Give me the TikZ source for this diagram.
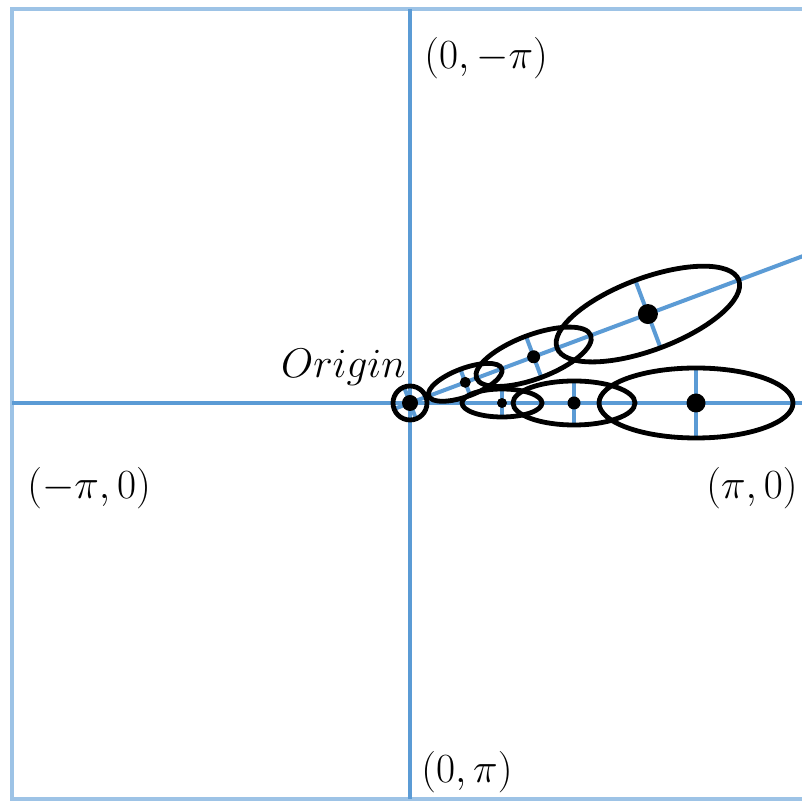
\documentclass[tikz,border=0pt]{standalone}
\usetikzlibrary{calc}
\definecolor{axisblue}{HTML}{5B9BD5}
\definecolor{frameblue}{HTML}{9DC3E6}
\tikzset{
  axisline/.style={draw=axisblue,line width=2pt},
  frameline/.style={draw=frameblue,line width=2pt},
  ell/.style={draw=black,line width=2.4pt},
  tick/.style={draw=axisblue,line width=2pt},
  lbl/.style={inner sep=0pt,font=\fontsize{22}{26}\selectfont},
}
\begin{document}
\begin{tikzpicture}[x=0.5pt,y=0.5pt]
\useasboundingbox (0,0) rectangle (802,802);
\clip (0,0) rectangle (802,802);
\fill[white] (0,0) rectangle (802,802);
% frame
\draw[frameline] (12,3) rectangle (812,793);
% origin and axes
\coordinate (O) at (410,399);
\coordinate (T) at (410,793);
\coordinate (B) at (410,3);
\coordinate (L) at (12,399);
\coordinate (R) at (802,399);
\coordinate (RE) at ($(O)+(20.5:420)$);
\draw[axisline] (T) -- (B);
\draw[axisline] (L) -- (R);
\draw[axisline] ($(O)+(200.5:16)$) -- (RE);
% centers
\coordinate (E1) at ($(O)+(20.5:59)$);
\coordinate (E2) at ($(O)+(20.5:132)$);
\coordinate (E3) at ($(O)+(20.5:254)$);
\coordinate (E4) at (502,399);
\coordinate (E5) at (574,399);
\coordinate (E6) at (696,399);
% ticks (minor axes)
\draw[tick] ($(O)+(110.5:16)$) -- ($(O)+(-69.5:16)$);
\draw[tick] ($(E1)+(110.5:14)$) -- ($(E1)+(-69.5:14)$);
\draw[tick] ($(E2)+(110.5:22)$) -- ($(E2)+(-69.5:22)$);
\draw[tick] ($(E3)+(110.5:36)$) -- ($(E3)+(-69.5:36)$);
\draw[tick] ($(E4)+(0,14)$) -- ($(E4)+(0,-14)$);
\draw[tick] ($(E5)+(0,22)$) -- ($(E5)+(0,-22)$);
\draw[tick] ($(E6)+(0,35)$) -- ($(E6)+(0,-35)$);
% ellipses
\draw[ell] (O) circle[radius=17];
\draw[ell,rotate around={20.5:(E1)}] (E1) ellipse[x radius=39,y radius=14];
\draw[ell,rotate around={20.5:(E2)}] (E2) ellipse[x radius=61,y radius=22];
\draw[ell,rotate around={20.5:(E3)}] (E3) ellipse[x radius=97,y radius=36];
\draw[ell] (E4) ellipse[x radius=40,y radius=14];
\draw[ell] (E5) ellipse[x radius=61,y radius=22];
\draw[ell] (E6) ellipse[x radius=97,y radius=35];
% dots
\fill (O) circle[radius=8];
\fill (E1) circle[radius=5.5];
\fill (E2) circle[radius=6.5];
\fill (E3) circle[radius=10];
\fill (E4) circle[radius=5];
\fill (E5) circle[radius=6.5];
\fill (E6) circle[radius=9.5];
% labels
\node[lbl,anchor=west] (ltop) at (424,744) {$(0,-\pi)$};
\node[lbl,anchor=west] (lleft) at (27,314) {$(-\pi,0)$};
\node[lbl,anchor=east] (lright) at (798,314) {$(\pi,0)$};
\node[lbl,anchor=west] (lbot) at (421,30) {$(0,\pi)$};
\node[lbl,anchor=east] (lorig) at (406,435) {$Origin$};
\end{tikzpicture}
\end{document}
